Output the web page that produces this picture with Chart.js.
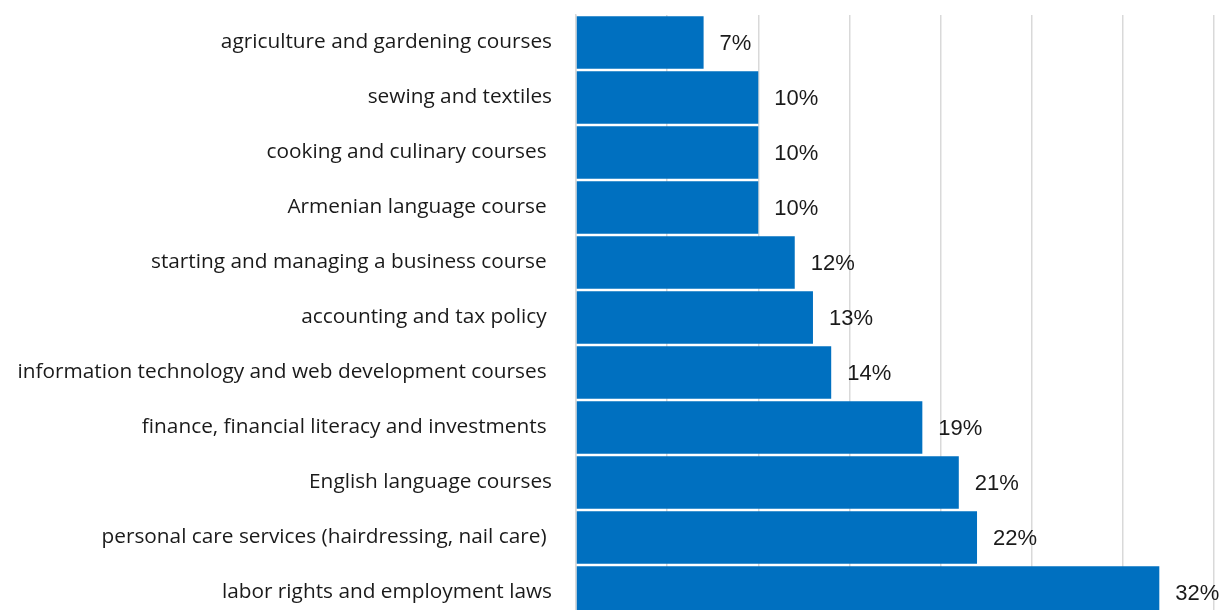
<!DOCTYPE html>
<html>
<head>
<meta charset="utf-8">
<script src="https://cdn.jsdelivr.net/npm/chart.js@4.4.0/dist/chart.umd.min.js"></script>
<style>
  html, body { margin: 0; padding: 0; background: #fff; overflow: hidden; }
  #wrap { width: 1222px; height: 610px; overflow: hidden; position: relative; }
  #box { width: 1222px; height: 620px; position: absolute; left: 0; top: 0; }
</style>
</head>
<body>
<div id="wrap"><div id="box"><canvas id="chart"></canvas></div></div>
<script>
// categories, top to bottom
const categories = [
  'agriculture and gardening courses',
  'sewing and textiles',
  'cooking and culinary courses ',
  'Armenian language course ',
  'starting and managing a business course ',
  'accounting and tax policy ',
  'information technology and web development courses ',
  'finance, financial literacy and investments ',
  'English language courses',
  'personal care services (hairdressing, nail care) ',
  'labor rights and employment laws'
];
const shares = [7, 10, 10, 10, 12, 13, 14, 19, 21, 22, 32];
const xTicks = [0, 5, 10, 15, 20, 25, 30, 35];

// draws "NN%" just right of each bar
const valueLabels = {
  id: 'valueLabels',
  afterDatasetsDraw(chart) {
    const ctx = chart.ctx;
    const meta = chart.getDatasetMeta(0);
    ctx.save();
    ctx.font = '22px "Liberation Sans", Arial, sans-serif';
    ctx.fillStyle = '#1a1a1a';
    ctx.textAlign = 'left';
    ctx.textBaseline = 'middle';
    meta.data.forEach((bar, i) => {
      ctx.fillText(shares[i] + '%', bar.x + 16, bar.y + 1);
    });
    ctx.restore();
  }
};

new Chart(document.getElementById('chart').getContext('2d'), {
  type: 'bar',
  data: {
    labels: categories,
    datasets: [{
      data: shares,
      backgroundColor: '#0070C0',
      borderWidth: 0,
      barPercentage: 1,
      categoryPercentage: 0.955
    }]
  },
  options: {
    indexAxis: 'y',
    responsive: true,
    maintainAspectRatio: false,
    animation: false,
    layout: { padding: { top: 15, right: 8, bottom: 0, left: 0 } },
    plugins: {
      legend: { display: false },
      tooltip: { enabled: false }
    },
    scales: {
      x: {
        min: 0,
        max: 35,
        afterBuildTicks: (scale) => { scale.ticks = xTicks.map(v => ({ value: v })); },
        afterFit: (scale) => { scale.height = 0; scale.paddingLeft = 0; scale.paddingRight = 0; },
        ticks: { display: false },
        grid: { color: '#d9d9d9', lineWidth: 1.5, drawTicks: false },
        border: { display: false }
      },
      y: {
        afterFit: (scale) => { scale.width = 576; scale.paddingTop = 0; scale.paddingBottom = 0; },
        ticks: {
          color: '#1a1a1a',
          padding: 24,
          font: { family: '"Open Sans", sans-serif', size: 20.8 }
        },
        grid: { display: false, drawTicks: false },
        border: { display: true, color: '#d9d9d9', width: 1.5 }
      }
    }
  },
  plugins: [valueLabels]
});
</script>
</body>
</html>
